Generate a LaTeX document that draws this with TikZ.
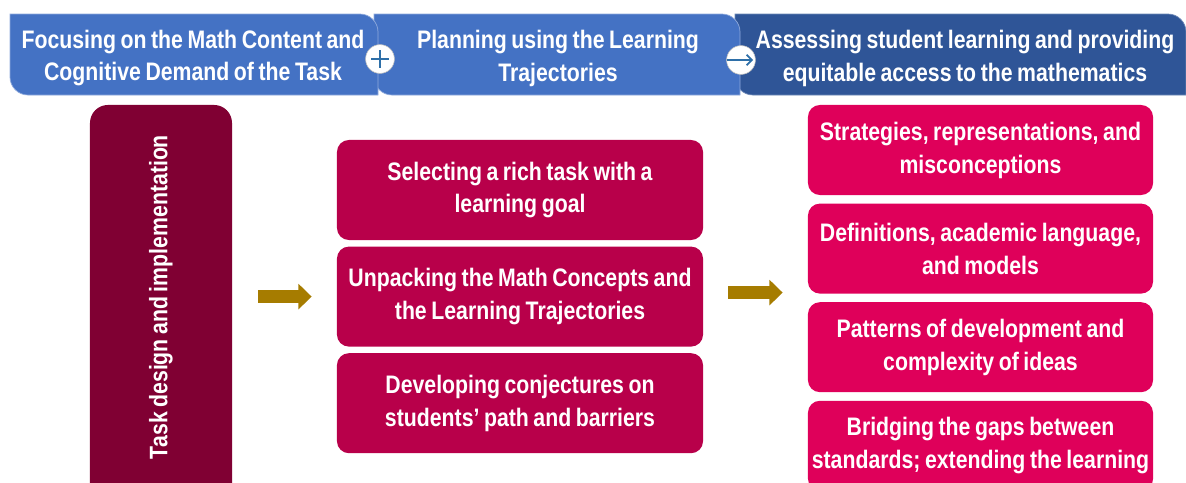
\documentclass[tikz,border=0pt]{standalone}
\usepackage{fontspec}
\setmainfont{Liberation Sans}[FakeStretch=0.84]
\usepackage{xcolor}
\usetikzlibrary{arrows.meta, positioning, calc}
\definecolor{hdrblue}{HTML}{4472C4}
\definecolor{hdrdark}{HTML}{2F5597}
\definecolor{taskred}{HTML}{800033}
\definecolor{stepred}{HTML}{B8004A}
\definecolor{focuspink}{HTML}{DF005A}
\definecolor{arrgold}{HTML}{A67C00}
\definecolor{signblue}{HTML}{2E6FA8}
\newcommand\boxfont{\bfseries\fontsize{18}{23.4}\selectfont\fontdimen2\font=0.18em\relax}
\tikzset{
  txt/.style = {text=white, align=center, font=\boxfont},
  taskbox/.style = {
    rectangle, rounded corners=0.45cm, fill=taskred, txt,
    minimum width=10cm, minimum height=3.55cm
  },
  stepbox/.style = {
    rectangle, rounded corners=0.3cm, fill=stepred, txt,
    minimum width=9.15cm, minimum height=2.5cm, inner sep=0pt
  },
  focusbox/.style = {
    rectangle, rounded corners=0.3cm, fill=focuspink, txt,
    minimum width=8.625cm, minimum height=2.25cm, inner sep=0pt
  },
  sigdot/.style = {circle, draw=black!25, fill=white, inner sep=0pt,
    minimum size=0.72cm},
  goldarr/.style = {-{Triangle[length=0.33cm, width=0.62cm]},
    line width=0.32cm, arrgold}
}

\begin{document}
\begin{tikzpicture}[x=0.025cm, y=0.025cm]

\useasboundingbox (0,0) rectangle (1186,-482);
\clip (0,0) rectangle (1186,-482);

% header bands, back to front
\filldraw[fill=hdrdark, draw=hdrdark!70!white, line width=0.5pt]
  (735,-14) -- (1168,-14) arc[start angle=90, end angle=0, radius=18]
  -- (1186,-95) -- (753,-95) arc[start angle=270, end angle=180, radius=18] -- cycle;
\filldraw[fill=hdrblue, draw=hdrblue!60!white, line width=0.5pt]
  (374,-14) -- (722,-14) arc[start angle=90, end angle=0, radius=18]
  -- (740,-95) -- (392,-95) arc[start angle=270, end angle=180, radius=18] -- cycle;
\filldraw[fill=hdrblue, draw=hdrblue!60!white, line width=0.5pt]
  (10,-14) -- (360,-14) arc[start angle=90, end angle=0, radius=18]
  -- (378,-95) -- (28,-95) arc[start angle=270, end angle=180, radius=18] -- cycle;

\node[txt] (hd1) at (193,-58) {Focusing on the Math Content and\\Cognitive Demand of the Task};
\node[txt] (hd2) at (558,-58) {Planning using the Learning\\Trajectories};
\node[txt] (hd3) at (965,-58) {Assessing student learning and providing\\equitable access to the mathematics};

\node[sigdot] (plus) at (380,-59) {};
\draw[signblue, line width=2pt] ([xshift=-0.22cm]plus.center) -- ([xshift=0.22cm]plus.center);
\draw[signblue, line width=2pt] ([yshift=-0.22cm]plus.center) -- ([yshift=0.22cm]plus.center);

\node[sigdot] (then) at (741,-60) {};
\draw[signblue, line width=1.2pt, -{Straight Barb[length=0.13cm]}]
  ([xshift=-0.36cm]then.center) -- ([xshift=0.3cm]then.center);

% body
\node[taskbox, rotate=90] (task) at (161,-305) {\hspace*{0.4cm}Task design and implementation};

\node[stepbox] (step1) at (520,-190) {Selecting a rich task with a\\learning goal};
\node[stepbox, below=0.15cm of step1] (step2) {Unpacking the Math Concepts and\\the Learning Trajectories};
\node[stepbox, below=0.15cm of step2] (step3) {Developing conjectures on\\students' path and barriers};

\node[focusbox] (foc1) at (980.5,-150) {Strategies, representations, and\\misconceptions};
\node[focusbox, below=0.2cm of foc1] (foc2) {Definitions, academic language,\\and models};
\node[focusbox, below=0.2cm of foc2] (foc3) {Patterns of development and\\complexity of ideas};
\node[focusbox, below=0.2cm of foc3] (foc4) {Bridging the gaps between\\standards; extending the learning};

\draw[goldarr, shorten <=2.425cm, shorten >=0.625cm] (task.center |- step2.west) -- (step2.west);
\draw[goldarr, shorten <=0.625cm, shorten >=0.625cm] ($(step2.east)+(0,4)$) -- ($(step2.east -| foc2.west)+(0,4)$);

\end{tikzpicture}
\end{document}
